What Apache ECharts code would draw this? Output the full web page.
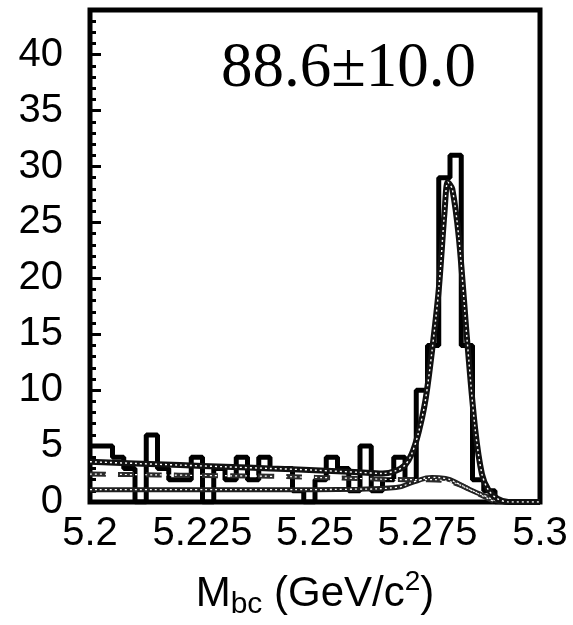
<!DOCTYPE html>
<html>
<head>
<meta charset="utf-8">
<script src="https://cdn.jsdelivr.net/npm/echarts@6.0.0/dist/echarts.min.js"></script>
<style>
  html, body { margin: 0; padding: 0; background: #fff; }
  #chart { width: 573px; height: 625px; }
</style>
</head>
<body>
<div id="chart"></div>
<script>
// histogram: 40 bins of 2.5 MeV from 5.2 to 5.3
const binLow = 5.2;
const binWidth = 0.0025;
const counts = [5, 5, 4, 3, 0, 6, 3, 2, 2, 4,
                0, 3, 2, 4, 2, 4, 3, 3, 1, 0,
                2, 4, 3, 1, 5, 1, 2, 4, 2, 10,
                14, 29, 31, 14, 2, 1, 0, 0, 0, 0];

// fit curves (x, y)
const totalFit = [[5.200, 3.6], [5.210, 3.45], [5.220, 3.3], [5.230, 3.15], [5.240, 3.0],
  [5.250, 2.85], [5.260, 2.65], [5.265, 2.55], [5.268, 2.8], [5.270, 3.3], [5.2715, 4.3],
  [5.273, 6.2], [5.2745, 9], [5.276, 13.5], [5.2775, 19], [5.2788, 26], [5.2795, 28.6],
  [5.2805, 28], [5.282, 23.5], [5.2838, 14.5], [5.2856, 6.5], [5.2871, 2.5], [5.2885, 1.1],
  [5.2905, 0.3], [5.293, 0], [5.300, 0]];
const bkgDashed = [[5.200, 2.5], [5.210, 2.45], [5.220, 2.4], [5.230, 2.35], [5.240, 2.3],
  [5.250, 2.2], [5.260, 2.1], [5.270, 2.0], [5.275, 2.0], [5.280, 1.8], [5.284, 1.2],
  [5.287, 0.6], [5.290, 0]];
const bkgSolid = [[5.200, 1.1], [5.220, 1.1], [5.240, 1.1], [5.260, 1.15], [5.268, 1.3],
  [5.272, 1.8], [5.276, 2.2], [5.279, 2.1], [5.282, 1.6], [5.285, 1.0], [5.288, 0.5],
  [5.290, 0.15], [5.292, 0], [5.300, 0]];

const yMajorTicks = 5;
const signalText = '88.6\u00b110.0';

const histPoints = [];
counts.forEach((c, i) => {
  histPoints.push([binLow + i * binWidth, c]);
});
histPoints.push([binLow + counts.length * binWidth, counts[counts.length - 1]]);

const labelFont = {fontFamily: 'Liberation Sans', fontSize: 40, color: '#000'};

const chart = echarts.init(document.getElementById('chart'));
chart.setOption({
  animation: false,
  grid: {left: 90, right: 33, top: 10, bottom: 120, show: true, borderColor: '#000', borderWidth: 5, backgroundColor: 'transparent'},
  xAxis: {
    type: 'value', min: 5.2, max: 5.3, interval: 0.025,
    axisLine: {show: false}, axisTick: {show: false}, splitLine: {show: false},
    axisLabel: Object.assign({margin: 12, formatter: v => String(Math.round(v * 1000) / 1000)}, labelFont),
    name: '{a|M}{sub|bc}{a| (GeV/c}{sup|2}{a|)}',
    nameLocation: 'middle', nameGap: 66,
    nameTextStyle: {
      rich: {
        a: {fontFamily: 'Liberation Sans', fontSize: 42, color: '#000', lineHeight: 52},
        sub: {fontFamily: 'Liberation Sans', fontSize: 30, color: '#000', lineHeight: 10, verticalAlign: 'bottom'},
        sup: {fontFamily: 'Liberation Sans', fontSize: 28, color: '#000', lineHeight: 28, verticalAlign: 'top'}
      }
    }
  },
  yAxis: [{
    type: 'value', min: 0, max: 44, interval: yMajorTicks,
    axisLine: {show: false}, splitLine: {show: false},
    axisTick: {inside: true, length: 11, lineStyle: {color: '#000', width: 3}},
    axisLabel: Object.assign({margin: 27, showMaxLabel: false}, labelFont)
  }, {
    type: 'value', min: 0, max: 44, interval: 1, position: 'left',
    axisLine: {show: false}, splitLine: {show: false}, axisLabel: {show: false},
    axisTick: {inside: true, length: 6, lineStyle: {color: '#000', width: 3}}
  }],
  graphic: [{
    type: 'text', left: 221, top: 38,
    style: {text: signalText, fontFamily: 'Liberation Serif', fontSize: 63, fill: '#000'}
  }],
  series: [{
    type: 'line', data: histPoints, step: 'end', symbol: 'none', z: 3,
    lineStyle: {color: '#000', width: 5}
  }, {
    type: 'line', data: bkgSolid, smooth: true, symbol: 'none', z: 4,
    lineStyle: {color: '#1e1e1e', width: 5}
  }, {
    type: 'line', data: bkgSolid, smooth: true, symbol: 'none', z: 5,
    lineStyle: {color: '#fff', width: 1.3, type: [2, 3]}
  }, {
    type: 'line', data: bkgDashed, smooth: true, symbol: 'none', z: 4,
    lineStyle: {color: '#2a2a2a', width: 5, type: [16, 12]}
  }, {
    type: 'line', data: bkgDashed, smooth: true, symbol: 'none', z: 5,
    lineStyle: {color: '#fff', width: 1.2, type: [2, 3]}
  }, {
    type: 'line', data: totalFit, smooth: 0.3, symbol: 'none', z: 6,
    lineStyle: {color: '#111', width: 6}
  }, {
    type: 'line', data: totalFit, smooth: 0.3, symbol: 'none', z: 7,
    lineStyle: {color: '#fff', width: 1.4, type: [2, 3]}
  }]
});
</script>
</body>
</html>
